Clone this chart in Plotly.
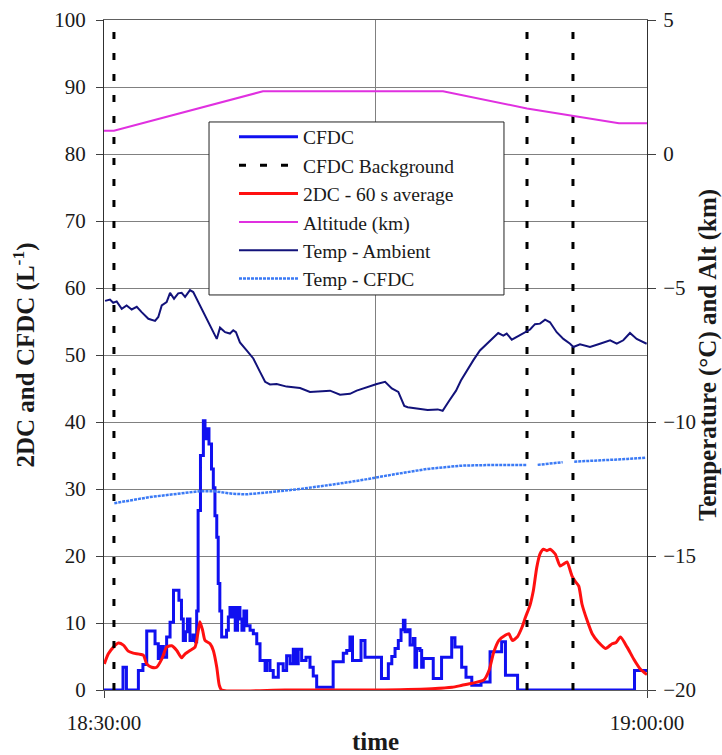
import pandas as pd
import plotly.graph_objects as go

# ---- data (time in minutes after 18:30:00) ----
START = "2000-01-01 18:30:00"

# CFDC ice nuclei concentration (L-1), step record
cfdc_min = [0.00, 1.05, 1.24, 1.90, 2.15, 2.36, 2.82, 3.00, 3.15, 3.28, 3.46, 3.65,
            3.84, 4.14, 4.28, 4.38, 4.50, 4.61, 4.75, 4.92, 5.06, 5.12, 5.20, 5.33,
            5.49, 5.58, 5.69, 5.80, 5.94, 6.04, 6.13, 6.23, 6.31, 6.40, 6.50, 6.77,
            6.87, 6.96, 7.07, 7.15, 7.25, 7.38, 7.51, 7.62, 7.73, 7.88, 8.07, 8.25,
            8.44, 8.62, 8.90, 8.99, 9.17, 9.35, 9.63, 9.90, 10.09, 10.28, 10.46, 10.58,
            10.73, 10.92, 11.16, 11.38, 11.56, 11.75, 12.66, 13.22, 13.41, 13.59, 13.73,
            14.20, 14.42, 15.33, 15.71, 15.90, 16.08, 16.26, 16.41, 16.54, 16.63, 16.80,
            16.91, 17.09, 17.18, 17.27, 17.46, 17.55, 17.64, 18.19, 18.65, 19.21, 19.39,
            19.76, 20.00, 20.32, 20.83, 21.33, 21.97, 22.18, 22.85, 29.31, 30.00]
cfdc_val = [0.0, 3.4, 0.0, 2.9, 3.8, 8.8, 6.9, 4.7, 6.5, 4.9, 7.9, 10.1,
            14.9, 13.4, 10.6, 7.4, 8.7, 10.6, 7.4, 8.2, 7.2, 11.8, 26.8, 35.0,
            40.2, 37.5, 39.0, 36.7, 33.0, 30.2, 26.0, 22.8, 15.9, 11.8, 7.9, 8.9,
            10.9, 12.3, 10.9, 12.3, 8.9, 12.3, 10.6, 8.9, 11.8, 9.6, 8.9, 8.4,
            6.9, 4.4, 2.9, 4.4, 2.9, 1.9, 3.9, 2.9, 5.1, 3.9, 6.1, 3.9,
            6.1, 4.4, 4.9, 3.4, 2.1, 0.4, 4.2, 5.5, 5.9, 7.9, 4.4,
            7.4, 4.9, 1.7, 3.9, 5.0, 6.2, 7.4, 9.0, 10.4, 8.7, 9.0,
            6.7, 7.7, 3.4, 6.2, 5.9, 3.4, 4.7, 1.7, 4.9, 7.8, 6.4,
            3.4, 1.9, 0.7, 1.2, 5.7, 7.2, 2.2, 0.0, 2.9, 2.9]

# CFDC background sampling periods (minutes)
bg_min = [0.55, 23.37, 25.91]

# 2DC concentration, 60 s running average (L-1)
twodc_min = [0.02, 0.24, 0.52, 0.79, 1.07, 1.34, 1.62, 2.17, 2.36, 2.63, 2.91, 3.19,
             3.46, 3.74, 4.02, 4.29, 4.48, 4.75, 5.03, 5.21, 5.30, 5.45, 5.58, 5.86,
             6.04, 6.23, 6.37, 6.50, 10.0, 15.0, 18.12, 19.23, 19.78, 20.34, 20.99,
             21.27, 21.54, 21.82, 22.19, 22.37, 22.56, 22.83, 23.10, 23.29, 23.53,
             23.72, 23.91, 24.09, 24.28, 24.47, 24.65, 24.93, 25.20, 25.39, 25.58,
             25.86, 26.04, 26.23, 26.41, 26.69, 26.97, 27.33, 27.71, 28.07, 28.29,
             28.53, 28.90, 29.27, 29.64, 30.00]
twodc_val = [3.9, 5.4, 6.4, 7.0, 6.7, 5.8, 5.5, 5.2, 3.9, 3.4, 3.4, 4.6,
             6.4, 6.6, 5.9, 4.8, 5.4, 5.9, 6.4, 8.9, 10.2, 8.9, 7.4, 6.9,
             5.9, 3.4, 0.7, 0.0, 0.0, 0.0, 0.2, 0.4, 0.7, 1.0, 1.5,
             2.9, 5.7, 7.4, 8.2, 8.4, 7.4, 7.9, 9.4, 10.9, 12.6,
             14.8, 18.3, 20.3, 21.0, 20.8, 21.0, 20.3, 18.5, 18.8, 19.1,
             17.0, 16.2, 15.5, 12.8, 10.4, 8.4, 7.1, 6.2, 6.9, 7.1,
             7.9, 6.4, 4.6, 3.1, 2.3]

# Aircraft altitude (km)
alt_min = [0.00, 0.55, 8.78, 18.73, 23.37, 28.45, 30.00]
alt_km = [0.87, 0.87, 2.34, 2.34, 1.70, 1.15, 1.15]

# Ambient temperature (deg C)
tamb_min = [0.06, 0.33, 0.51, 0.70, 0.98, 1.25, 1.53, 1.81, 2.08, 2.45, 2.82, 3.00,
            3.19, 3.46, 3.65, 3.87, 4.10, 4.29, 4.48, 4.66, 4.75, 4.93, 5.30, 5.67,
            6.04, 6.23, 6.41, 6.69, 6.96, 7.14, 7.29, 7.51, 7.88, 8.25, 8.62, 8.90,
            9.17, 9.54, 10.09, 10.83, 11.38, 11.93, 12.49, 13.04, 13.59, 13.96, 14.51,
            15.07, 15.53, 15.90, 16.26, 16.59, 16.78, 17.33, 17.88, 18.44, 18.71,
            19.08, 19.45, 19.72, 20.04, 20.40, 20.77, 21.14, 21.51, 21.78, 22.06,
            22.25, 22.53, 22.89, 23.26, 23.54, 23.81, 24.09, 24.37, 24.64, 25.01,
            25.38, 25.75, 25.93, 26.30, 26.85, 27.40, 27.96, 28.33, 28.69, 29.06,
            29.43, 29.98]
tamb_c = [-5.48, -5.43, -5.55, -5.50, -5.78, -5.65, -5.80, -5.70, -5.90, -6.15, -6.23, -6.08,
          -5.65, -5.53, -5.18, -5.40, -5.20, -5.18, -5.33, -5.18, -5.08, -5.15, -5.65, -6.15,
          -6.65, -6.90, -6.48, -6.65, -6.70, -6.58, -6.65, -7.03, -7.33, -7.63, -8.13, -8.50,
          -8.60, -8.58, -8.68, -8.73, -8.88, -8.85, -8.83, -8.98, -8.95, -8.83, -8.70,
          -8.58, -8.50, -8.75, -8.88, -9.40, -9.45, -9.50, -9.55, -9.53, -9.58,
          -9.20, -8.83, -8.45, -8.08, -7.70, -7.33, -7.08, -6.83, -6.68, -6.78,
          -6.70, -6.93, -6.80, -6.65, -6.55, -6.35, -6.33, -6.18, -6.28, -6.65,
          -6.90, -7.08, -7.20, -7.10, -7.20, -7.08, -6.95, -7.08, -6.95, -6.68,
          -6.90, -7.08]

# CFDC processing temperature (deg C); None marks the breaks in the record
tcfdc_min = [0.57, 2.54, 5.30, 6.04, 7.14, 7.88, 8.99, 10.83, 12.67, 14.14, 16.04,
             17.88, 19.72, 21.56, 23.35, None, 23.96, 25.34, None, 25.98, 27.09,
             28.93, 29.95]
tcfdc_c = [-13.03, -12.80, -12.58, -12.58, -12.68, -12.70, -12.63, -12.50, -12.33,
           -12.18, -11.95, -11.75, -11.63, -11.60, -11.60, None, -11.60, -11.50, None,
           -11.48, -11.45, -11.38, -11.33]

x_tick_labels = ["18:30:00", "19:00:00"]

# ---- helpers ----
t0 = pd.Timestamp(START)


def to_time(minutes):
    return [None if m is None else t0 + pd.Timedelta(minutes=m) for m in minutes]


bg_x, bg_y = [], []
for m in bg_min:
    bg_x += [m, m, None]
    bg_y += [0, 100, None]

FONT = "Liberation Serif"
INK = "#1a1a1a"

fig = go.Figure()

fig.add_trace(go.Scatter(
    x=to_time(cfdc_min), y=cfdc_val, name="CFDC", mode="lines",
    line=dict(color="#1010f0", width=3, shape="hv"), legendrank=1))
fig.add_trace(go.Scatter(
    x=to_time(twodc_min), y=twodc_val, name="2DC - 60 s average", mode="lines",
    line=dict(color="#ff1010", width=3, shape="spline", smoothing=0.6),
    legendrank=3))
fig.add_trace(go.Scatter(
    x=to_time(alt_min), y=alt_km, name="Altitude (km)", mode="lines",
    line=dict(color="#e030e0", width=2), yaxis="y2", legendrank=4))
fig.add_trace(go.Scatter(
    x=to_time(tamb_min), y=tamb_c, name="Temp - Ambient", mode="lines",
    line=dict(color="#12127a", width=2), yaxis="y2", legendrank=5))
fig.add_trace(go.Scatter(
    x=to_time(tcfdc_min), y=tcfdc_c, name="Temp - CFDC", mode="lines",
    line=dict(color="#3b7af5", width=2.5, dash="3px,1px"), yaxis="y2",
    connectgaps=False, legendrank=6))
fig.add_trace(go.Scatter(
    x=to_time(bg_x), y=bg_y, name="CFDC Background", mode="lines",
    line=dict(color="black", width=3, dash="7px,14px"), legendrank=2))

x_tick_vals = [t0, t0 + pd.Timedelta(minutes=30)]

# legend frame (white box drawn over the grid; legend entries sit on top)
fig.add_shape(type="rect", xref="paper", yref="paper",
              x0=0.1934, x1=0.7366, y0=0.5896, y1=0.8478,
              fillcolor="white", line=dict(color="#222222", width=1),
              layer="above")

fig.update_layout(
    width=722, height=755,
    margin=dict(l=104, r=75, t=20, b=65, autoexpand=False),
    paper_bgcolor="white", plot_bgcolor="white",
    font=dict(family=FONT, color=INK, size=21),
    showlegend=True,
    legend=dict(
        x=0.2394, y=0.8542, xanchor="left", yanchor="top",
        bgcolor="rgba(0,0,0,0)", borderwidth=0,
        font=dict(family=FONT, size=19.5, color=INK),
        itemwidth=59, tracegroupgap=0,
    ),
    xaxis=dict(
        type="date", automargin=False,
        range=[x_tick_vals[0], x_tick_vals[1]],
        tickvals=x_tick_vals, ticktext=x_tick_labels,
        ticks="outside", ticklen=7, tickcolor="#404040",
        ticklabelstandoff=7,
        showgrid=False,
        minor=dict(dtick=15 * 60 * 1000, tick0=t0, showgrid=True,
                   gridcolor="#808080", gridwidth=1, ticks=""),
        showline=True, linecolor="#606060", linewidth=1, mirror=True,
        tickfont=dict(family=FONT, size=21, color=INK),
        title=dict(text="<b>time</b>", font=dict(family=FONT, size=25, color=INK),
                   standoff=18),
    ),
    yaxis=dict(
        range=[0, 100], dtick=10, tick0=0, automargin=False,
        ticks="outside", ticklen=7, tickcolor="#404040",
        ticklabelstandoff=6,
        showgrid=True, gridcolor="#808080", gridwidth=1,
        zeroline=False,
        showline=True, linecolor="#303030", linewidth=1,
        tickfont=dict(family=FONT, size=21, color=INK),
        title=dict(text="<b>2DC and CFDC (L<sup>-1</sup>)</b>",
                   font=dict(family=FONT, size=25, color=INK), standoff=12),
    ),
    yaxis2=dict(
        range=[-20, 5], dtick=5, tick0=-20, automargin=False,
        overlaying="y", side="right",
        ticks="outside", ticklen=8, tickcolor="#404040",
        ticklabelstandoff=3,
        showgrid=False, zeroline=False,
        showline=True, linecolor="#303030", linewidth=1,
        tickfont=dict(family=FONT, size=21, color=INK),
        title=dict(text="<b>Temperature (°C) and Alt (km)</b>",
                   font=dict(family=FONT, size=25, color=INK), standoff=8),
    ),
)

fig.write_html("out.html")
